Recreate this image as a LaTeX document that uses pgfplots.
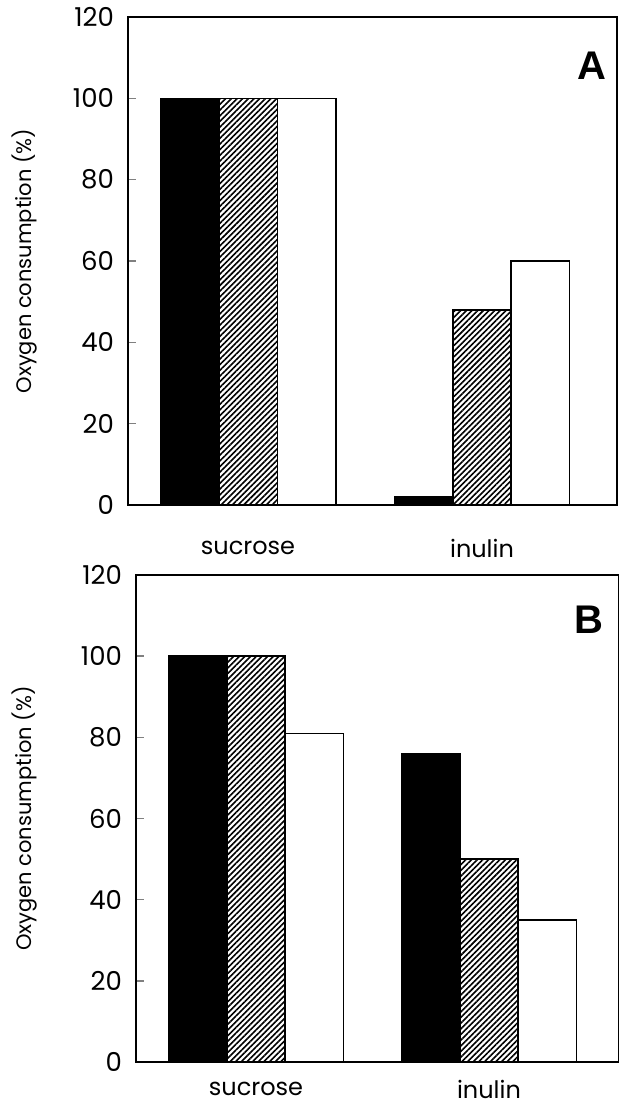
\documentclass[border=0pt]{standalone}
\usepackage{fontspec}
\setmainfont{Poppins}
\newfontfamily\lab{Liberation Sans}
\usepackage{pgfplots}
\pgfplotsset{compat=1.18}
\usetikzlibrary{patterns.meta}
\pgfplotsset{
  panel/.style={
    scale only axis, ybar, bar width=0.25,
    ymin=0, ymax=120, ytick={0,20,...,120},
    xtick={0,1}, xticklabels={sucrose,inulin},
    major x tick style={draw=none},
    ytick pos=left,
    tick align=inside, major tick length=4pt,
    ytick style={line width=0.8pt},
    axis line style={line width=0.7pt},
    /pgf/number format/assume math mode=true,
    yticklabel style={font=\fontsize{13}{15}\selectfont, xshift=-3.5pt},
    xticklabel style={font=\fontsize{12}{14}\selectfont},
    ylabel={Oxygen consumption (\%)},
    ylabel style={at={(axis description cs:0,0.5)}, anchor=center, font=\fontsize{10.5}{12}\selectfont},
  },
  hatch/.style={draw=black, line width=0.75pt, pattern={Lines[angle=45,distance=2pt,line width=0.8pt]}},
}
\begin{document}
\begin{tikzpicture}
\useasboundingbox (0,0) rectangle (309.5pt,552.5pt);
\begin{axis}[panel, at={(64pt,300pt)}, anchor=south west,
  width=244.5pt, height=244pt, xmin=-0.513, xmax=1.577,
  xticklabel style={anchor=center, yshift=-21.5pt},
  ylabel style={yshift=51.5pt}]
\addplot[fill=black, draw=black, line width=0.75pt, bar shift=-0.25] coordinates {(0,100) (1,2)};
\addplot[hatch, bar shift=0] coordinates {(0,100) (1,48)};
\addplot[fill=white, draw=black, line width=0.75pt, bar shift=0.25] coordinates {(0,100) (1,60)};
\node[font=\lab\bfseries\fontsize{20}{20}\selectfont] at (axis cs:1.47,108) {A};
\end{axis}
\begin{axis}[panel, at={(68pt,21.5pt)}, anchor=south west,
  width=241.5pt, height=243.5pt, xmin=-0.515, xmax=1.558,
  xticklabel style={anchor=center, yshift=-13.5pt},
  ylabel style={yshift=55.5pt}]
\addplot[fill=black, draw=black, line width=0.75pt, bar shift=-0.25] coordinates {(0,100) (1,76)};
\addplot[hatch, bar shift=0] coordinates {(0,100) (1,50)};
\addplot[fill=white, draw=black, line width=0.75pt, bar shift=0.25] coordinates {(0,81) (1,35)};
\node[font=\lab\bfseries\fontsize{20}{20}\selectfont] at (axis cs:1.43,109) {B};
\end{axis}
\end{tikzpicture}
\end{document}
